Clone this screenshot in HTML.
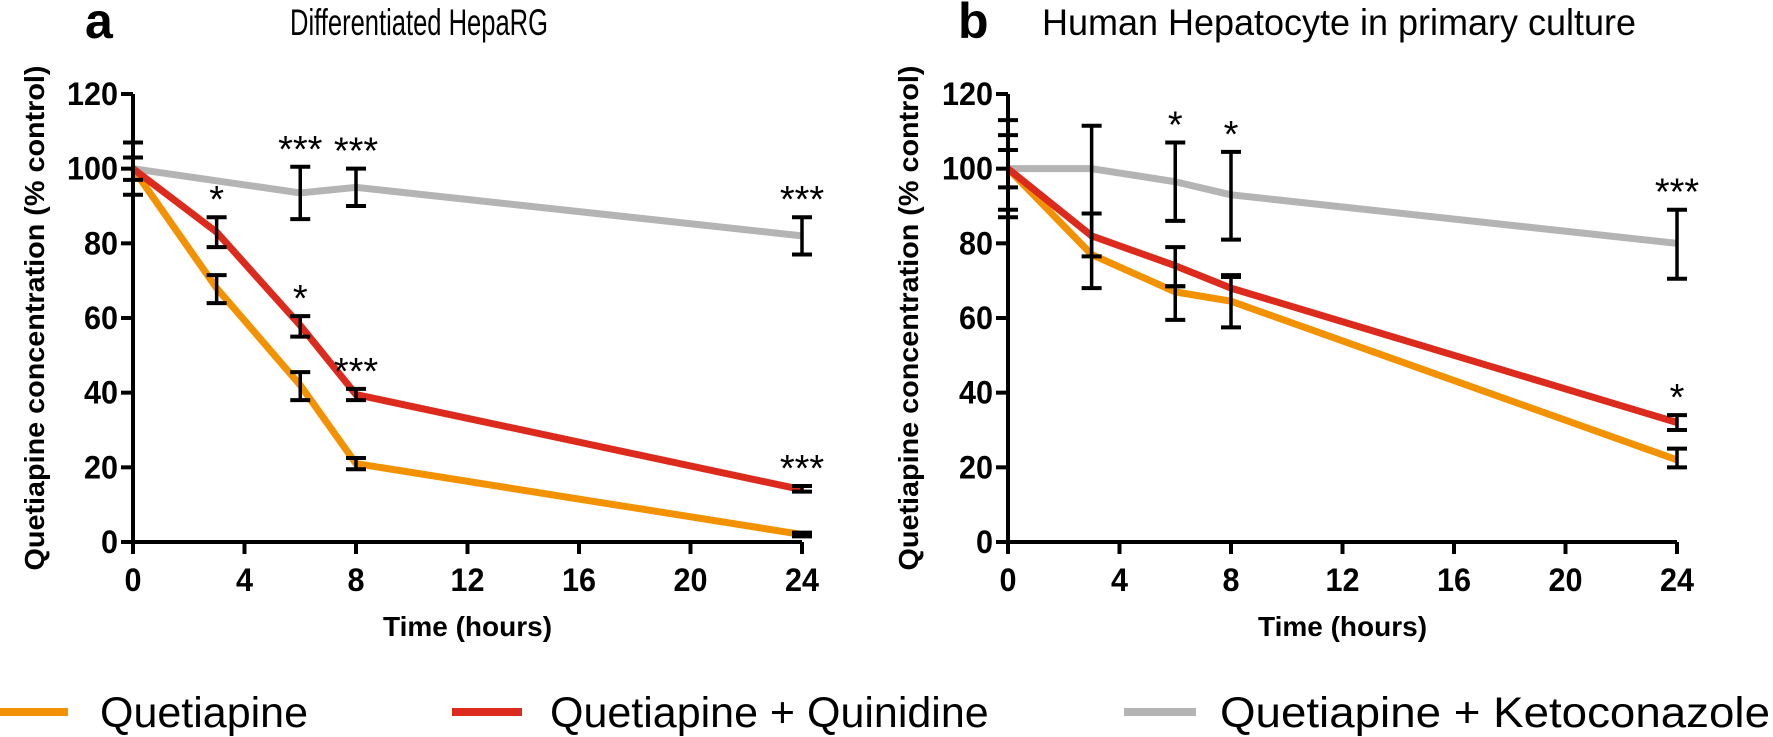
<!DOCTYPE html>
<html><head><meta charset="utf-8"><style>
html,body{margin:0;padding:0;background:#fff;}
svg{display:block;font-family:"Liberation Sans",Arial,sans-serif;}
</style></head><body>
<svg id="s" width="1773" height="737" viewBox="0 0 1773 737" xmlns="http://www.w3.org/2000/svg"></svg>
<script>
const S=document.getElementById('s');let h='';
const OR='#F39200',RD='#DC2A1C',GR='#B4B4B4';
function panel(x0,x24,letter,lx,title,tx,tw,data,errs,stars,ytx){
  const y0=542,ppu=(542-94)/120,pph=(x24-x0)/24;
  const X=t=>x0+t*pph,Y=v=>y0-v*ppu;
  for(const [col,pts] of data){
    h+=`<polyline fill="none" stroke="${col}" stroke-width="7" stroke-linejoin="round" points="${pts.map(p=>X(p[0])+','+Y(p[1])).join(' ')}"/>`;
  }
  for(const [t,lo,hi] of errs){
    const x=X(t);
    h+=`<line x1="${x}" y1="${Y(lo)}" x2="${x}" y2="${Y(hi)}" stroke="#000" stroke-width="3.5"/>`;
    for(const v of [lo,hi]) h+=`<line x1="${x-10}" y1="${Y(v)}" x2="${x+10}" y2="${Y(v)}" stroke="#000" stroke-width="4"/>`;
  }
  h+=`<path d="M${x0} ${Y(120)} V${y0+12} M${x0-12} ${y0} H${x24}" stroke="#000" stroke-width="4" fill="none"/>`;
  for(let v=0;v<=120;v+=20){h+=`<line x1="${x0-12}" y1="${Y(v)}" x2="${x0}" y2="${Y(v)}" stroke="#000" stroke-width="4"/>`;
    h+=`<text x="${x0-15}" y="${Y(v)+11}" font-size="32" font-weight="bold" text-anchor="end" textLength="${String(v).length*17}" lengthAdjust="spacingAndGlyphs">${v}</text>`;}
  for(let t=0;t<=24;t+=4){h+=`<line x1="${X(t)}" y1="${y0}" x2="${X(t)}" y2="${y0+12}" stroke="#000" stroke-width="4"/>`;
    h+=`<text x="${X(t)}" y="591" font-size="32" font-weight="bold" text-anchor="middle" textLength="${String(t).length*17}" lengthAdjust="spacingAndGlyphs">${t}</text>`;}
  h+=`<text x="${(x0+x24)/2}" y="636" font-size="28" font-weight="bold" text-anchor="middle">Time (hours)</text>`;
  h+=`<text transform="translate(${ytx},318) rotate(-90)" font-size="28" font-weight="bold" text-anchor="middle" textLength="505" lengthAdjust="spacingAndGlyphs">Quetiapine concentration (% control)</text>`;
  h+=`<text x="${lx}" y="38" font-size="50" font-weight="bold">${letter}</text>`;
  h+=`<text x="${tx}" y="35" font-size="37" textLength="${tw}" lengthAdjust="spacingAndGlyphs">${title}</text>`;
  for(const [t,v,s] of stars) h+=`<text x="${X(t)}" y="${Y(v)-5}" font-size="38" text-anchor="middle">${s}</text>`;
}
panel(133,802,'a',85,'Differentiated HepaRG',290,258,
 [[GR,[[0,100],[6,93.5],[8,95],[24,82]]],[OR,[[0,100],[3,68],[6,42],[8,21],[24,2]]],[RD,[[0,100],[3,83],[6,58],[8,39.5],[24,14]]]],
 [[0,93,107],[0,97,103],[3,79,87],[3,64,71.5],[6,86.5,100.5],[6,55,60.5],[6,38,45.5],[8,90,100],[8,38,41],[8,19.5,22.5],[24,77,87],[24,13.5,15],[24,1.5,2.5]],
 [[3,87,'*'],[6,100.5,'***'],[6,60.5,'*'],[8,100,'***'],[8,41,'***'],[24,87,'***'],[24,15,'***']],44);
panel(1008,1677,'b',958,'Human Hepatocyte in primary culture',1042,594,
 [[GR,[[0,100],[3,100],[6,96.5],[8,93],[24,80]]],[OR,[[0,100],[3,77],[6,67],[8,64.5],[24,22]]],[RD,[[0,100],[3,82],[6,74],[8,68],[24,32]]]],
 [[0,87,113],[0,89,109],[0,95,105],[3,68,111.5],[3,76.5,88],[6,86,107],[6,59.5,79],[6,68.5,68.5],[8,81,104.5],[8,57.5,71.5],[8,71,71],[24,70.5,89],[24,30,34],[24,20,25]],
 [[6,107,'*'],[8,104.5,'*'],[24,89,'***'],[24,34,'*']],918);
h+=`<line x1="0" y1="712" x2="68" y2="712" stroke="${OR}" stroke-width="8"/>`;
h+=`<text x="100" y="727" font-size="43">Quetiapine</text>`;
h+=`<line x1="452" y1="712" x2="522" y2="712" stroke="${RD}" stroke-width="8"/>`;
h+=`<text x="550" y="727" font-size="43">Quetiapine + Quinidine</text>`;
h+=`<line x1="1124" y1="712" x2="1196" y2="712" stroke="${GR}" stroke-width="8"/>`;
h+=`<text x="1220" y="727" font-size="43" textLength="550" lengthAdjust="spacingAndGlyphs">Quetiapine + Ketoconazole</text>`;
S.innerHTML=h;
</script>
</body></html>
